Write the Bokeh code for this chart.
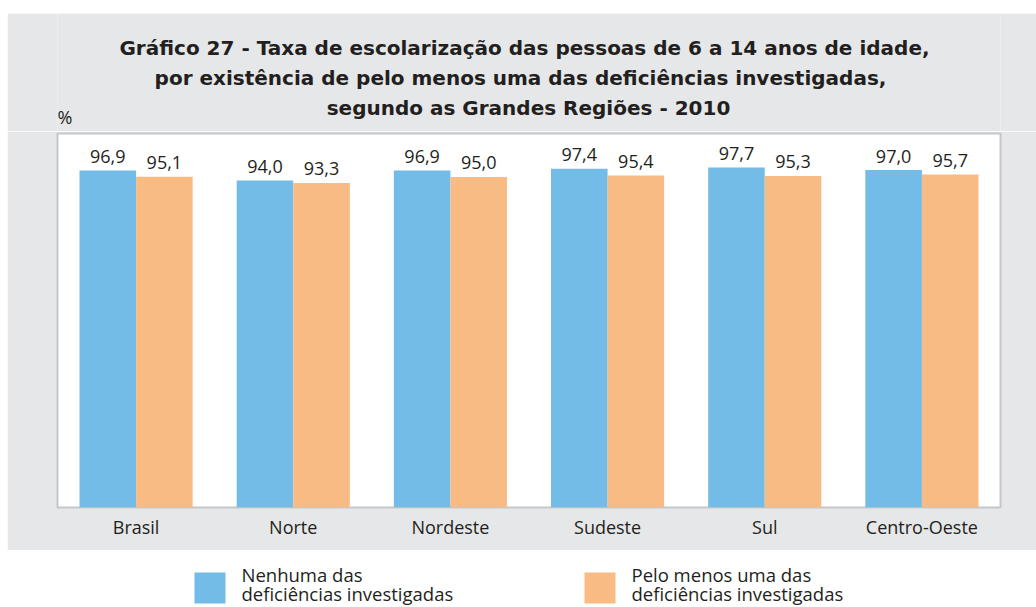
from bokeh.plotting import figure
from bokeh.models import ColumnDataSource, FactorRange, Range1d, Spacer
from bokeh.layouts import column, row
from bokeh.transform import dodge
from bokeh.core.properties import value
from bokeh.embed import file_html
from bokeh.resources import INLINE

regions = ["Brasil", "Norte", "Nordeste", "Sudeste", "Sul", "Centro-Oeste"]
nenhuma = [96.9, 94.0, 96.9, 97.4, 97.7, 97.0]
pelo_menos = [95.1, 93.3, 95.0, 95.4, 95.3, 95.7]
series_names = ["Nenhuma das\ndeficiências investigadas", "Pelo menos uma das\ndeficiências investigadas"]
title_lines = [
    "Gráfico 27 - Taxa de escolarização das pessoas de 6 a 14 anos de idade,",
    "por existência de pelo menos uma das deficiências investigadas,",
    "segundo as Grandes Regiões - 2010",
]
unit_label = "%"

BLUE = "#73bce7"
ORANGE = "#f9bb84"
GREY = "#e6e7e8"
TXT = "#231f20"
FONT = "Open Sans"
TFONT = "DejaVu Sans"
W = 1029
ML, MR = 50, 36

src = ColumnDataSource(dict(
    region=regions,
    a=nenhuma,
    b=pelo_menos,
    a_lab=[f"{v:.1f}".replace(".", ",") for v in nenhuma],
    b_lab=[f"{v:.1f}".replace(".", ",") for v in pelo_menos],
))

# ---- title strip (grey) ----
tf = figure(width=W, height=118, x_range=Range1d(57, 1000), y_range=Range1d(131, 13),
            output_backend="svg", toolbar_location=None, x_axis_location=None,
            y_axis_location=None, min_border_left=ML, min_border_right=MR,
            min_border_top=0, min_border_bottom=0)
tf.border_fill_color = GREY
tf.background_fill_color = GREY
tf.outline_line_color = None
tf.grid.visible = False
tf.text(x=[524, 520, 528], y=[47, 77, 107], text=title_lines, text_align="center",
        text_baseline="alphabetic", text_font=value(TFONT), text_font_size="20px",
        text_font_style="bold", text_color=TXT)
tf.text(x=[57], y=[116], text=[unit_label], text_align="left", text_baseline="alphabetic",
        text_font=value(FONT), text_font_size="18px", text_color=TXT)

# ---- main chart ----
p = figure(width=W, height=419, x_range=FactorRange(factors=regions, range_padding=0),
           y_range=Range1d(0, 107.5), output_backend="svg", toolbar_location=None,
           y_axis_location=None, min_border_left=ML, min_border_right=MR,
           min_border_top=2, min_border_bottom=43)
p.border_fill_color = GREY
p.background_fill_color = "white"
p.outline_line_color = "#c6c7c9"
p.outline_line_width = 2
p.grid.visible = False

p.vbar(x=dodge("region", -0.18, range=p.x_range), top="a", width=0.36, source=src,
       fill_color=BLUE, line_color=None)
p.vbar(x=dodge("region", 0.18, range=p.x_range), top="b", width=0.36, source=src,
       fill_color=ORANGE, line_color=None)
p.text(x=dodge("region", -0.18, range=p.x_range), y="a", text="a_lab", source=src,
       text_align="center", text_baseline="alphabetic", y_offset=-14,
       text_font=value(FONT), text_font_size="18px", text_color=TXT)
p.text(x=dodge("region", 0.18, range=p.x_range), y="b", text="b_lab", source=src,
       text_align="center", text_baseline="alphabetic", y_offset=-14,
       text_font=value(FONT), text_font_size="18px", text_color=TXT)

ax = p.xaxis[0]
ax.axis_line_color = None
ax.major_tick_line_color = None
ax.minor_tick_line_color = None
ax.major_tick_out = 0
ax.major_tick_in = 0
ax.major_label_standoff = 7
ax.major_label_text_font = FONT
ax.major_label_text_font_size = "18px"
ax.major_label_text_color = TXT

# ---- legend strip (white) ----
lg = figure(width=W, height=57, x_range=Range1d(57, 1000), y_range=Range1d(607, 550),
            output_backend="svg", toolbar_location=None, x_axis_location=None,
            y_axis_location=None, min_border_left=ML, min_border_right=MR,
            min_border_top=0, min_border_bottom=0)
lg.outline_line_color = None
lg.grid.visible = False
lg.background_fill_color = "white"
lg.border_fill_color = "white"
for x0, col, name in [(194, BLUE, series_names[0]), (584, ORANGE, series_names[1])]:
    lg.quad(left=x0, right=x0 + 31, top=572, bottom=603, fill_color=col, line_color=None)
    l1, l2 = name.split("\n")
    lg.text(x=[x0 + 47, x0 + 47], y=[574, 593], text=[l1, l2], text_baseline="alphabetic",
            text_font=value(FONT), text_font_size="18.5px", text_color=TXT)

layout = row(Spacer(width=7, height=607),
             column(Spacer(width=W, height=13), tf, p, lg, spacing=0), spacing=0)
open("out.html", "w").write(file_html(layout, INLINE))
